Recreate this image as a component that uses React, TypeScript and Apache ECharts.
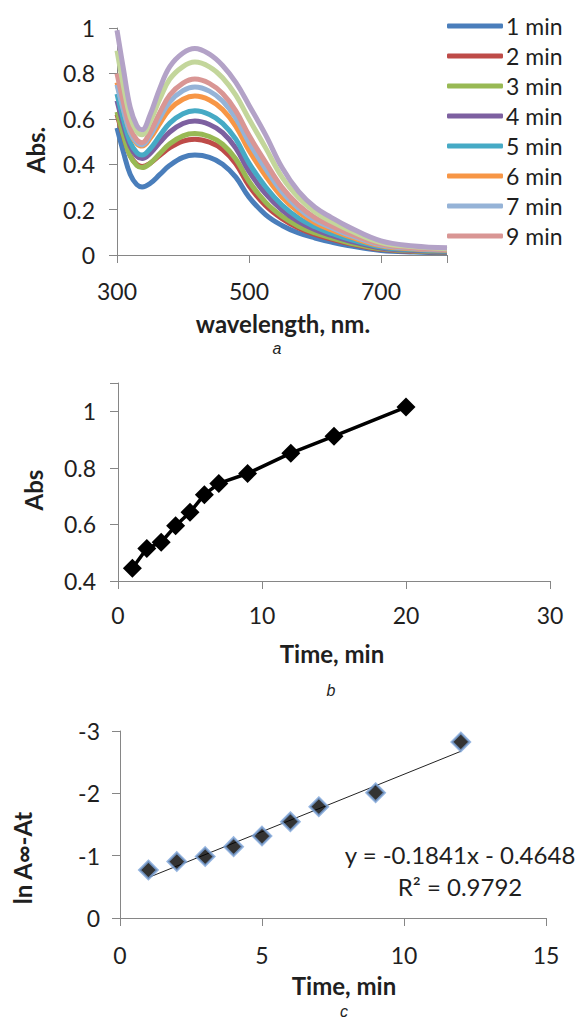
import React, { useEffect, useRef } from "react";
import * as echarts from "echarts";

// ---------- Panel a: spectra ----------
const wavelengths = [300, 310, 320, 330, 338, 350, 365, 380, 400, 418, 440, 460, 480, 500, 525, 550, 575, 600, 625, 650, 700, 750, 800];
const spectraNames = ["1 min", "2 min", "3 min", "4 min", "5 min", "6 min", "7 min", "9 min", "12 min", "15 min"];
const legendNames = ["1 min", "2 min", "3 min", "4 min", "5 min", "6 min", "7 min", "9 min"];
const abs1 = [0.56, 0.45, 0.355, 0.31, 0.3, 0.315, 0.355, 0.395, 0.43, 0.44, 0.43, 0.4, 0.343, 0.255, 0.178, 0.13, 0.097, 0.075, 0.057, 0.042, 0.02, 0.013, 0.01];
const abs2 = [0.62, 0.521, 0.438, 0.399, 0.39, 0.404, 0.439, 0.473, 0.502, 0.51, 0.497, 0.465, 0.402, 0.305, 0.218, 0.16, 0.119, 0.091, 0.07, 0.052, 0.025, 0.016, 0.013];
const abs3 = [0.63, 0.525, 0.436, 0.395, 0.385, 0.403, 0.447, 0.49, 0.525, 0.535, 0.522, 0.488, 0.423, 0.325, 0.233, 0.171, 0.127, 0.097, 0.075, 0.055, 0.027, 0.018, 0.014];
const abs4 = [0.68, 0.57, 0.479, 0.435, 0.425, 0.447, 0.496, 0.542, 0.579, 0.59, 0.575, 0.539, 0.471, 0.368, 0.27, 0.198, 0.147, 0.112, 0.086, 0.064, 0.031, 0.02, 0.016];
const abs5 = [0.71, 0.594, 0.497, 0.451, 0.44, 0.467, 0.526, 0.581, 0.622, 0.635, 0.619, 0.58, 0.51, 0.405, 0.301, 0.22, 0.163, 0.124, 0.095, 0.071, 0.035, 0.023, 0.018];
const abs6 = [0.76, 0.64, 0.539, 0.491, 0.48, 0.513, 0.58, 0.642, 0.686, 0.7, 0.683, 0.641, 0.567, 0.46, 0.349, 0.255, 0.189, 0.142, 0.11, 0.083, 0.04, 0.026, 0.021];
const abs7 = [0.75, 0.636, 0.541, 0.496, 0.485, 0.525, 0.604, 0.675, 0.724, 0.74, 0.722, 0.678, 0.603, 0.496, 0.381, 0.278, 0.206, 0.154, 0.12, 0.09, 0.044, 0.029, 0.023];
const abs9 = [0.8, 0.669, 0.559, 0.507, 0.495, 0.541, 0.628, 0.705, 0.757, 0.775, 0.756, 0.711, 0.635, 0.527, 0.409, 0.298, 0.22, 0.165, 0.128, 0.097, 0.048, 0.031, 0.024];
const abs12 = [0.9, 0.741, 0.608, 0.545, 0.53, 0.586, 0.688, 0.775, 0.83, 0.85, 0.829, 0.781, 0.704, 0.599, 0.473, 0.343, 0.253, 0.189, 0.147, 0.112, 0.055, 0.036, 0.028];
const abs15 = [0.99, 0.815, 0.65, 0.57, 0.552, 0.617, 0.735, 0.83, 0.89, 0.91, 0.885, 0.835, 0.76, 0.66, 0.53, 0.385, 0.28, 0.21, 0.165, 0.125, 0.062, 0.04, 0.032];
const spectra = [abs1, abs2, abs3, abs4, abs5, abs6, abs7, abs9, abs12, abs15];
const spectraColors = ["#4A7EBB", "#BE4B48", "#98B954", "#7D60A0", "#46AAC5", "#F79646", "#95B3D7", "#D99694", "#C3D69B", "#B3A2C7"];

// ---------- Panel b: Abs vs time ----------
const timeB = [1, 2, 3, 4, 5, 6, 7, 9, 12, 15, 20];
const absB = [0.445, 0.515, 0.537, 0.595, 0.643, 0.705, 0.745, 0.78, 0.852, 0.912, 1.015];

// ---------- Panel c: ln(A∞-At) vs time ----------
const timeC = [1, 2, 3, 4, 5, 6, 7, 9, 12];
const lnC = [-0.77, -0.905, -0.985, -1.145, -1.315, -1.545, -1.785, -2.01, -2.825];
const trendSlope = -0.1841;
const trendIntercept = -0.4648;
const trendRange = [1, 12];
const equationText = "y = -0.1841x - 0.4648";
const r2Text = "R² = 0.9792";

const FONT = "Lato";
const TXT = "#1f1f1f";
const AXIS = "#868686";
const TICK_FS = 23;
const TITLE_FONT = `bold 24px ${FONT}`;
const CAPTION_FONT = `italic 16px "Liberation Sans"`;

function axisCommon(extra: any) {
  return {
    type: "value",
    axisLine: { show: true, lineStyle: { color: AXIS, width: 1 } },
    axisTick: { show: true, length: 8, lineStyle: { color: AXIS } },
    splitLine: { show: false },
    ...extra,
  };
}

function lbl(margin: number, formatter?: any) {
  const o: any = { fontFamily: FONT, fontSize: TICK_FS, color: TXT, margin };
  if (formatter) o.formatter = formatter;
  return o;
}

function fmt1(v: number) {
  return String(Math.round(v * 10) / 10);
}

export default function App() {
  const ref = useRef<HTMLDivElement>(null);
  useEffect(() => {
    const chart = echarts.init(ref.current!, null, { renderer: "svg" });
    const spectraSeries = spectra.map((vals, i) => ({
      name: spectraNames[i],
      type: "line",
      xAxisIndex: 0,
      yAxisIndex: 0,
      smooth: 0.4,
      showSymbol: false,
      symbol: "none",
      lineStyle: { width: 5, color: spectraColors[i] },
      itemStyle: { color: spectraColors[i] },
      data: wavelengths.map((w, k) => [w, vals[k]]),
      z: 2 + i,
    }));
    const option: any = {
      animation: false,
      backgroundColor: "#fff",
      textStyle: { fontFamily: FONT },
      grid: [
        { left: 117, top: 28, width: 330, height: 227 },
        { left: 118, top: 383, width: 432, height: 198 },
        { left: 120, top: 731, width: 426, height: 187 },
      ],
      legend: {
        data: legendNames,
        orient: "vertical",
        left: 442,
        top: 9,
        icon: "roundRect",
        itemWidth: 56,
        itemHeight: 5,
        itemGap: 6,
        selectedMode: false,
        textStyle: { fontFamily: FONT, fontSize: TICK_FS, color: TXT, lineHeight: 24, padding: [0, 0, 0, -2] },
      },
      xAxis: [
        axisCommon({ gridIndex: 0, min: 300, max: 800, interval: 200, axisLabel: lbl(24, (v: number) => (v === 800 ? "" : String(v))) }),
        axisCommon({ gridIndex: 1, min: 0, max: 30, interval: 10, axisLabel: lbl(22) }),
        axisCommon({ gridIndex: 2, min: 0, max: 15, interval: 5, axisLabel: lbl(25) }),
      ],
      yAxis: [
        axisCommon({ gridIndex: 0, min: 0, max: 1, interval: 0.2, axisLabel: lbl(22, fmt1) }),
        axisCommon({
          gridIndex: 1, min: 0.4, max: 1.1, interval: 0.2,
          axisLabel: lbl(22, (v: number) => (Math.abs(v - 1.1) < 1e-6 ? "" : fmt1(v))),
        }),
        axisCommon({ gridIndex: 2, min: -3, max: 0, interval: 1, inverse: true, axisLabel: lbl(20) }),
      ],
      series: [
        ...spectraSeries,
        {
          name: "Abs",
          type: "line",
          xAxisIndex: 1,
          yAxisIndex: 1,
          symbol: "diamond",
          symbolSize: 19,
          showSymbol: true,
          lineStyle: { width: 3.5, color: "#000" },
          itemStyle: { color: "#000" },
          data: timeB.map((t, k) => [t, absB[k]]),
        },
        {
          name: "trend",
          type: "line",
          xAxisIndex: 2,
          yAxisIndex: 2,
          symbol: "none",
          lineStyle: { width: 1, color: "#222" },
          data: trendRange.map((t) => [t, trendSlope * t + trendIntercept]),
          z: 2,
        },
        {
          name: "ln",
          type: "scatter",
          xAxisIndex: 2,
          yAxisIndex: 2,
          symbol: "diamond",
          symbolSize: 18,
          itemStyle: { color: "#000", borderColor: "#7AA3D8", borderWidth: 2.5 },
          data: timeC.map((t, k) => [t, lnC[k]]),
          z: 3,
        },
      ],
      graphic: [
        { type: "text", x: 35, y: 150, rotation: Math.PI / 2, style: { text: "Abs.", font: TITLE_FONT, fill: TXT, align: "center", verticalAlign: "middle" } },
        { type: "text", x: 283, y: 323, style: { text: "wavelength, nm.", font: TITLE_FONT, fill: TXT, align: "center", verticalAlign: "middle" } },
        { type: "text", x: 277, y: 348, style: { text: "a", font: CAPTION_FONT, fill: TXT, align: "center", verticalAlign: "middle" } },
        { type: "text", x: 33, y: 490, rotation: Math.PI / 2, style: { text: "Abs", font: TITLE_FONT, fill: TXT, align: "center", verticalAlign: "middle" } },
        { type: "text", x: 332, y: 653, style: { text: "Time, min", font: TITLE_FONT, fill: TXT, align: "center", verticalAlign: "middle" } },
        { type: "text", x: 331, y: 690, style: { text: "b", font: CAPTION_FONT, fill: TXT, align: "center", verticalAlign: "middle" } },
        { type: "text", x: 22, y: 858, rotation: Math.PI / 2, style: { text: "ln A∞-At", font: TITLE_FONT, fill: TXT, align: "center", verticalAlign: "middle" } },
        { type: "text", x: 344, y: 985, style: { text: "Time, min", font: TITLE_FONT, fill: TXT, align: "center", verticalAlign: "middle" } },
        { type: "text", x: 344, y: 1011, style: { text: "c", font: CAPTION_FONT, fill: TXT, align: "center", verticalAlign: "middle" } },
        { type: "text", x: 460, y: 854, style: { text: equationText, font: `24px ${FONT}`, fill: TXT, align: "center", verticalAlign: "middle" } },
        { type: "text", x: 460, y: 886, style: { text: r2Text, font: `24px ${FONT}`, fill: TXT, align: "center", verticalAlign: "middle" } },
      ],
    };
    chart.setOption(option);
    return () => chart.dispose();
  }, []);
  return (
    <div
      ref={ref}
      style={{ position: "absolute", left: 0, top: 0, width: 581, height: 1021, background: "#fff" }}
    />
  );
}
